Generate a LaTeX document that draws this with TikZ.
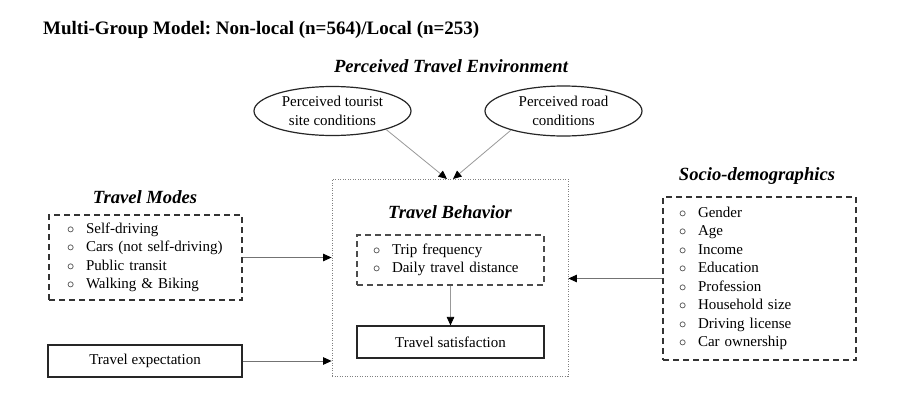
\documentclass[tikz,border=0pt]{standalone}
\usepackage{fontspec}
\setmainfont{Liberation Serif}
\usetikzlibrary{arrows.meta,shapes.geometric}
\frenchspacing
\newcommand{\bulitem}[1]{\makebox[19pt][l]{$\circ$}#1}
\begin{document}
\begin{tikzpicture}[x=1pt,y=-1pt,
  txt/.style={font=\fontsize{15}{18.5}\selectfont, inner sep=0pt},
  hdr/.style={font=\fontsize{18.6}{22}\selectfont\bfseries\itshape, inner sep=0pt},
  dbox/.style={draw=black!80, dash pattern=on 6pt off 4pt, line width=1.3pt, inner ysep=0pt, align=left, font=\fontsize{15}{18.5}\selectfont},
  sbox/.style={draw=black!85, line width=1.2pt, inner sep=0pt, font=\fontsize{15}{18.5}\selectfont},
  ell/.style={ellipse, draw=black!85, line width=1.2pt, inner sep=0pt, align=center, font=\fontsize{15}{18.5}\selectfont},
  arr/.style={draw=black!55, line width=0.8pt, -{Triangle[black,length=8.5pt,width=7.5pt]}},
  larr/.style={draw=black!40, line width=0.8pt, -{Triangle[black,length=8.5pt,width=7.5pt]}},
  ]
\fill[white] (0,0) rectangle (902,418);
\useasboundingbox (0,0) rectangle (902,418);

% title
\node[anchor=west, inner sep=0pt, font=\fontsize{19}{22}\selectfont\bfseries] (title) at (43,30) {Multi-Group Model: Non-local (n=564)/Local (n=253)};

% perceived travel environment
\node[hdr] (pteh) at (451,66) {Perceived Travel Environment};
\node[ell, minimum width=157pt, minimum height=49pt] (el1) at (332.5,111) {Perceived tourist\\site conditions};
\node[ell, minimum width=157pt, minimum height=50pt] (el2) at (563.5,111) {Perceived road\\conditions};

% travel behavior
\node[draw=black!50, dash pattern=on 1pt off 1.5pt, line width=0.8pt, minimum width=236pt, minimum height=197pt, inner sep=0pt] (tb) at (450,277.5) {};
\node[hdr] (tbh) at (450,212) {Travel Behavior};
\node[dbox, draw=black!70, text width=155pt, inner xsep=16pt, minimum height=50pt] (tbi) at (450.5,260)
  {\bulitem{Trip frequency}\\\bulitem{Daily travel distance}};
\node[sbox, minimum width=187pt, minimum height=32pt] (sat) at (450.5,342) {Travel satisfaction};

% travel modes
\node[hdr] (tmh) at (145,197) {Travel Modes};
\node[dbox, text width=157pt, inner xsep=18pt, minimum height=85pt] (tm) at (145.5,257.5)
  {\bulitem{Self-driving}\\\bulitem{Cars (not self-driving)}\\\bulitem{Public transit}\\\bulitem{Walking \& Biking}};

% travel expectation
\node[sbox, minimum width=194pt, minimum height=32pt] (te) at (145,361) {Travel expectation};

% socio-demographics
\node[hdr] (sdh) at (757,176) {Socio-demographics};
\node[dbox, text width=161pt, inner xsep=16pt, minimum height=163pt] (sd) at (759.5,278.5)
  {\bulitem{Gender}\\\bulitem{Age}\\\bulitem{Income}\\\bulitem{Education}\\\bulitem{Profession}\\\bulitem{Household size}\\\bulitem{Driving license}\\\bulitem{Car ownership}};

% connectors
\coordinate (t1) at (447,179);
\coordinate (t2) at (453,179);
\draw[larr] (el1.-19) -- (t1);
\draw[larr] (el2.200) -- (t2);
\draw[arr] (tm.east) -- (tm.east -| tb.west);
\draw[arr] (te.east) -- (te.east -| tb.west);
\draw[arr] (sd.west) -- (sd.west -| tb.east);
\draw[larr] (tbi.south) -- (sat.north);
\end{tikzpicture}
\end{document}
